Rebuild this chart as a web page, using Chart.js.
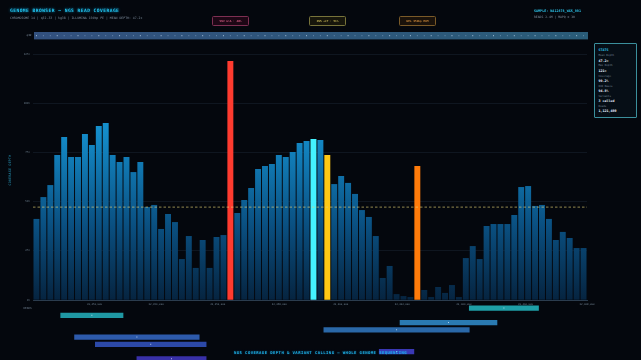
<!DOCTYPE html>
<html><head><meta charset="utf-8">
<script src="https://cdn.jsdelivr.net/npm/chart.js@4.4.0/dist/chart.umd.min.js"></script>
<style>
html,body{margin:0;padding:0;background:#04070d;width:641px;height:360px;overflow:hidden;font-family:"DejaVu Sans Mono",monospace;}
#wrap{position:relative;width:641px;height:360px;overflow:hidden;}
canvas{position:absolute;left:0;top:0;}
.t{position:absolute;white-space:nowrap;line-height:1;}
.badge{position:absolute;top:16px;height:8.4px;width:35.4px;border:0.8px solid;border-radius:1.5px;font-size:2.8px;line-height:8.4px;text-align:center;white-space:nowrap;}
#stats{position:absolute;left:594px;top:43px;width:41px;height:73px;border:0.8px solid #3b8f9c;background:#060e16;border-radius:1px;}
</style></head><body><div id="wrap">
<canvas id="main" width="641" height="360"></canvas>
<canvas id="reads" width="641" height="370"></canvas>
<div class="t" style="left:10px;top:8.6px;font-size:4.6px;font-weight:bold;letter-spacing:0.45px;color:#22c6f0;text-shadow:0 0 3px rgba(0,190,255,0.75);">GENOME BROWSER — NGS READ COVERAGE</div>
<div class="t" style="left:10px;top:16.6px;font-size:3.2px;color:#7d8c9c;">CHROMOSOME 14 | q32.33 | hg38 | ILLUMINA 150bp PE | MEAN DEPTH: 47.2×</div>
<div class="t" style="left:534px;top:10.2px;font-size:3.4px;font-weight:bold;color:#2cc0e6;">SAMPLE: NA12878_WGS_001</div>
<div class="t" style="left:534px;top:15.6px;font-size:3.1px;color:#7f8e9e;">READS 2.4M | MAPQ ≥ 30</div>
<div class="t" style="left:26.5px;top:33.8px;font-size:2.8px;color:#7f8e9e;">q32</div>
<div class="t" style="left:10.5px;top:170px;font-size:3.2px;letter-spacing:0.3px;color:#2aa6cc;transform:translate(-50%,-50%) rotate(-90deg);transform-origin:center;">COVERAGE DEPTH</div>
<div class="t" style="left:23.5px;top:307px;font-size:2.7px;color:#6f7f90;">READS</div>
<div id="stats"></div>
<div class="t" id="footer" style="left:320.5px;top:351.4px;transform:translateX(-50%);font-size:3.9px;font-weight:bold;letter-spacing:0.45px;color:#1fb0e4;text-shadow:0 0 2px rgba(0,170,255,0.5);z-index:5;">NGS COVERAGE DEPTH &amp; VARIANT CALLING — WHOLE GENOME SEQUENCING</div>
</div>
<script>
// ---------- data ----------
const binStart = 32450000;
const binSize = 225;
const depth = [41.2,52.3,58.4,73.7,82.8,72.7,72.7,84.3,78.8,88.4,
  89.9,73.7,70.1,72.7,65.0,70.1,47.3,48.3,36.1,43.7,
  39.6,20.8,32.5,16.3,30.5,16.3,32.0,33.0,121.4,44.2,
  50.8,56.9,66.6,68.1,69.1,73.7,72.7,75.2,79.8,80.8,
  81.8,81.3,73.7,58.9,63.0,59.5,53.9,45.7,42.2,32.5,
  11.2,17.3,3.0,2.0,1.5,68.1,5.1,1.5,6.6,3.6,
  7.6,1.5,21.3,27.4,20.8,37.6,38.6,38.6,38.6,43.2,
  57.4,57.9,47.8,48.3,41.2,30.5,34.6,31.5,26.4,26.4];
const meanDepth = 47.2;
const yTicks = [0,25,50,75,100,125];
const variantBins = [28, 42, 55];
const variantLabels = ['SNV G>A · 48%', 'INS +CT · 51%', 'DEL 350bp HOM'];
const cursorBin = 40;
const readRows = ['r1','r2','r3','r4','r5','r6','r7','r8'];
const readStart = [32464175,32450900,32461925,32459450,32451350,32452025,32461250,32453375];
const readEnd   = [32466425,32452925,32465075,32464175,32455400,32455625,32462375,32455625];
const statLabels = ['Mean Depth','Max Depth','Coverage','Q30 Bases','Variants','Reads'];
const statValues = ['47.2×','121×','99.2%','94.8%','3 called','1,121,400'];

// ---------- styles ----------
const variantColors = ['#ff3b2f','#ffc814','#ff7b0a'];
const cursorColor = '#44f2ff';
const badgeStyles = [
  {b:'#7d2f52',bg:'rgba(90,10,40,0.3)',c:'#ff6f9c'},
  {b:'#77733a',bg:'rgba(70,60,10,0.3)',c:'#f2dd6a'},
  {b:'#7a5a28',bg:'rgba(80,45,5,0.3)',c:'#ffaa48'}
];
const MONO = '"DejaVu Sans Mono", monospace';
const xMin = binStart, xMax = binStart + depth.length*binSize;

let grad = null;
function barColor(ctx){
  const i = ctx.dataIndex;
  const vi = variantBins.indexOf(i);
  if (vi >= 0) return variantColors[vi];
  if (i === cursorBin) return cursorColor;
  const ch = ctx.chart, ca = ch.chartArea;
  if (!ca) return '#0a6aa0';
  if (!grad){
    grad = ch.ctx.createLinearGradient(0, ca.top, 0, ca.bottom);
    grad.addColorStop(0, '#1fbaf5');
    grad.addColorStop(0.35, '#1387c4');
    grad.addColorStop(0.7, '#0a4f80');
    grad.addColorStop(1, '#062440');
  }
  return grad;
}

const decoPlugin = {
  id:'deco',
  beforeDatasetsDraw(chart){
    const {ctx, chartArea:ca, scales:{x}} = chart;
    // ideogram band
    const g = ctx.createLinearGradient(ca.left,0,ca.right,0);
    g.addColorStop(0,'#32507e'); g.addColorStop(1,'#2a5c78');
    ctx.save();
    ctx.fillStyle = g;
    ctx.fillRect(ca.left+1, 32, ca.right-ca.left, 7.4);
    depth.forEach((v,i)=>{
      const px = x.getPixelForValue(binStart+(i+0.5)*binSize);
      ctx.fillStyle = (i%3===0)?'rgba(210,230,250,0.75)':'rgba(180,205,235,0.45)';
      ctx.fillRect(px-0.5, 35.2, 1, 1);
    });
    ctx.restore();
  },
  afterDatasetsDraw(chart){
    const {ctx, chartArea:ca, scales:{y}} = chart;
    const py = y.getPixelForValue(meanDepth);
    ctx.save();
    ctx.strokeStyle = 'rgba(230,212,120,0.8)';
    ctx.lineWidth = 0.8;
    ctx.setLineDash([2.5,2]);
    ctx.beginPath(); ctx.moveTo(ca.left, py); ctx.lineTo(ca.right, py); ctx.stroke();
    ctx.restore();
  }
};

const mainChart = new Chart(document.getElementById('main'), {
  type:'bar',
  data:{ datasets:[{
    data: depth.map((v,i)=>({x: binStart+(i+0.5)*binSize, y: v})),
    backgroundColor: barColor,
    borderWidth:0,
    barPercentage:0.86,
    categoryPercentage:1
  }]},
  options:{
    responsive:false, animation:false,
    layout:{padding:{left:0,top:54,right:54,bottom:50}},
    plugins:{legend:{display:false},tooltip:{enabled:false}},
    scales:{
      x:{type:'linear', min:xMin, max:xMax, offset:false,
        grid:{display:false, offset:false, drawTicks:false},
        border:{display:true, color:'#34465a', width:0.8},
        ticks:{stepSize:2000, color:'#6f8090', font:{size:2.5, family:MONO}, maxRotation:0, padding:3,
          callback:(v,i)=> i===0 ? '' : Math.round(v).toLocaleString('en-US')},
        afterFit:s=>{s.height=10;}
      },
      y:{min:0, max:125,
        afterBuildTicks:s=>{s.ticks = yTicks.map(v=>({value:v}));},
        grid:{color:'rgba(95,125,165,0.22)', lineWidth:0.6, drawTicks:false},
        border:{display:false},
        ticks:{color:'#6f8090', font:{size:2.6, family:MONO}, padding:3, callback:v=>v+'×'},
        afterFit:s=>{s.width=33;}
      }
    }
  },
  plugins:[decoPlugin]
});

const dotPlugin = {
  id:'dots',
  afterDatasetsDraw(chart){
    const ctx = chart.ctx;
    ctx.save();
    ctx.fillStyle = 'rgba(225,240,255,0.75)';
    chart.getDatasetMeta(0).data.forEach(el=>{
      const cx = (el.x + el.base)/2;
      ctx.fillRect(cx-0.5, el.y-0.5, 1, 1);
    });
    ctx.restore();
  }
};

new Chart(document.getElementById('reads'), {
  type:'bar',
  data:{ labels: readRows, datasets:[{
    data: readStart.map((s,i)=>[s, readEnd[i]]),
    backgroundColor:['#1e9fa7','#1f98a3','#2a7ab2','#2a68a8','#2d5aab','#2c49a8','#3a38b4','#3830a8'],
    borderWidth:0, barThickness:4.6
  }]},
  options:{
    indexAxis:'y', responsive:false, animation:false,
    layout:{padding:{left:33,right:54,top:304.4,bottom:7.6}},
    plugins:{legend:{display:false},tooltip:{enabled:false}},
    scales:{
      x:{type:'linear', min:xMin, max:xMax, display:false},
      y:{type:'category', display:false, offset:true}
    }
  },
  plugins:[dotPlugin]
});

// badges placed over variant bins via the x scale
const xs = mainChart.scales.x;
const wrap = document.getElementById('wrap');
variantBins.forEach((b,k)=>{
  const d = document.createElement('div');
  d.className='badge';
  const st = badgeStyles[k];
  d.style.borderColor = st.b; d.style.background = st.bg; d.style.color = st.c;
  const cx = xs.getPixelForValue(binStart+(b+0.5)*binSize);
  d.style.left = (cx - 18.5) + 'px';
  d.textContent = variantLabels[k];
  wrap.appendChild(d);
});

// stats panel
const stats = document.getElementById('stats');
const hdr = document.createElement('div');
hdr.className='t'; hdr.style.cssText='left:3.5px;top:4.5px;font-size:3.3px;font-weight:bold;color:#2cc0e6;';
hdr.textContent='STATS'; stats.appendChild(hdr);
statLabels.forEach((l,i)=>{
  const a = document.createElement('div');
  a.className='t'; a.style.cssText=`left:3.5px;top:${11.3+i*10.1}px;font-size:2.6px;color:#75879a;`;
  a.textContent=l; stats.appendChild(a);
  const b = document.createElement('div');
  b.className='t'; b.style.cssText=`left:3.5px;top:${15.8+i*10.1}px;font-size:3.3px;font-weight:bold;color:#e6f3ff;`;
  b.textContent=statValues[i]; stats.appendChild(b);
});
</script>
</body></html>
